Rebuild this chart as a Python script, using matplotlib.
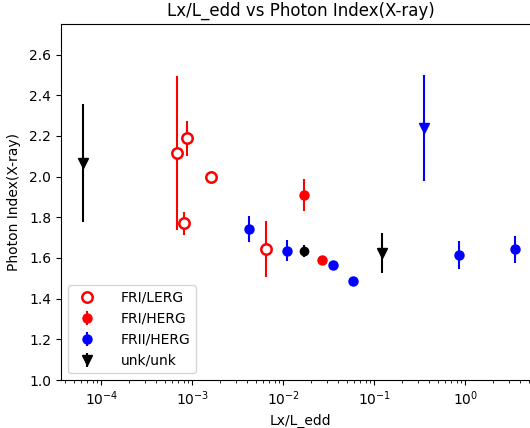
import matplotlib
matplotlib.use('Agg')
import matplotlib.pyplot as plt

# (x, y, yerr) per class
fri_lerg_x = [1.61e-3, 6.8e-4, 8.8e-4, 8.1e-4, 6.45e-3]
fri_lerg_y = [2.00, 2.116, 2.188, 1.770, 1.644]
fri_lerg_err = [0, 0.38, 0.085, 0.056, 0.14]

fri_herg_x = [0.0168, 0.0267]
fri_herg_y = [1.91, 1.588]
fri_herg_err = [0.08, 0]

frii_herg_x = [4.2e-3, 0.0109, 0.0347, 0.0575, 0.842, 3.55]
frii_herg_y = [1.742, 1.636, 1.565, 1.488, 1.615, 1.643]
frii_herg_err = [0.065, 0.05, 0, 0, 0.067, 0.067]

# upper-limit style points (triangles)
frii_lim_x = [0.351]
frii_lim_y = [2.237]
frii_lim_err = [0.26]

unk_x = [6.35e-5, 0.121]
unk_y = [2.067, 1.625]
unk_err = [0.29, 0.10]

other_x = [0.0168]
other_y = [1.636]
other_err = [0.03]

fig = plt.figure(figsize=(5.3, 4.28), dpi=100)
ax = fig.add_axes([61/530, 48/428, 479/530, 356/428])


def draw(xs, ys, errs, color, marker, label=None, open_marker=False, ms=6.5):
    for i, (x, y, e) in enumerate(zip(xs, ys, errs)):
        kw = dict(color=color, marker=marker, linestyle='none', markersize=ms)
        if open_marker:
            kw.update(markerfacecolor='white', markeredgecolor=color, markeredgewidth=1.8)
        ax.errorbar([x], [y], yerr=[e] if e else None,
                    label=label if i == 0 else None, **kw)


draw(fri_lerg_x, fri_lerg_y, fri_lerg_err, 'red', 'o', 'FRI/LERG', open_marker=True, ms=7.5)
draw(fri_herg_x, fri_herg_y, fri_herg_err, 'red', 'o', 'FRI/HERG')
draw(frii_herg_x, frii_herg_y, frii_herg_err, 'blue', 'o', 'FRII/HERG')
draw(unk_x, unk_y, unk_err, 'black', 'v', 'unk/unk')
draw(frii_lim_x, frii_lim_y, frii_lim_err, 'blue', 'v')
draw(other_x, other_y, other_err, 'black', 'o', ms=6)

ax.set_xscale('log')
ax.set_xlim(3.6e-5, 6.6)
ax.set_ylim(1.0, 2.75)
ax.set_xlabel('Lx/L_edd')
ax.set_ylabel('Photon Index(X-ray)', labelpad=6)
ax.set_title('Lx/L_edd vs Photon Index(X-ray)')
ax.legend(loc='lower left', handletextpad=1.4)

fig.savefig('out.png', dpi=100)
